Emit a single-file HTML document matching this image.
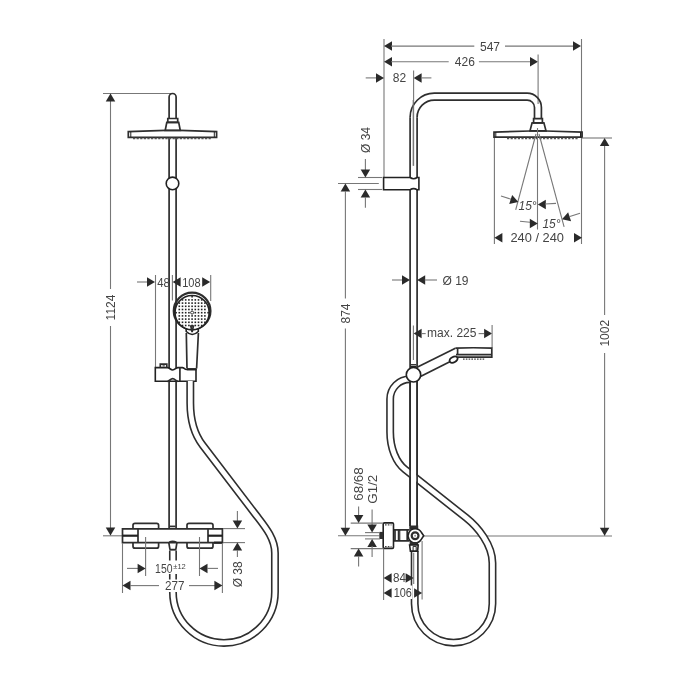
<!DOCTYPE html>
<html><head><meta charset="utf-8"><style>
html,body{margin:0;padding:0;background:#fff;width:700px;height:700px;overflow:hidden}
svg{display:block;will-change:transform}
text{font-family:"Liberation Sans",sans-serif;fill:#444}
.t{stroke:#777;stroke-width:1.1;fill:none}
.k{stroke:#2e2e2e;stroke-width:1.7;fill:none}
.k2{stroke:#222;stroke-width:1;fill:none}
.kb{stroke:#222;stroke-width:2.2;fill:none}
.kw{stroke:#222;stroke-width:1.6;fill:#fff}
.kthick{stroke:#222;stroke-width:3;fill:none}
.dash{stroke:#444;stroke-width:1.3;stroke-dasharray:1.6 1.2;fill:none}
.a{fill:#2a2a2a}
.dash2{stroke:#555;stroke-width:1.3;stroke-dasharray:2.2 1.4;fill:none}
.hoseo{stroke:#2e2e2e;stroke-width:8.0;fill:none}
.hosei{stroke:#fff;stroke-width:4.8;fill:none}
</style></head><body>
<svg width="700" height="700" viewBox="0 0 700 700">
<line x1="103" y1="93.5" x2="171" y2="93.5" class="t"/>
<line x1="110.5" y1="93.5" x2="110.5" y2="289" class="t"/>
<line x1="110.5" y1="326" x2="110.5" y2="535.5" class="t"/>
<polygon points="110.50,93.50 115.25,101.50 105.75,101.50" class="a"/>
<polygon points="110.50,535.50 105.75,527.50 115.25,527.50" class="a"/>
<line x1="103" y1="535.8" x2="122.5" y2="535.8" class="t"/>
<text x="110.5" y="307.5" font-size="12" text-anchor="middle" dominant-baseline="central" transform="rotate(-90 110.5 307.5)" >1124</text>
<path d="M169.1,118.5 L169.1,97 A3.5,3.5 0 0 1 176.1,97 L176.1,118.5" class="k"/>
<path d="M169.1,137.5 L169.1,528.8 M176.1,137.5 L176.1,528.8" class="k"/>
<path d="M167.8,118.5 L177.7,118.5 L177.7,122.3 L167.8,122.3 Z" class="k"/>
<path d="M166.8,122.3 L178.7,122.3 L180.3,130.5 L165.2,130.5 Z" class="k"/>
<path d="M128.3,131.6 L165.5,130.4 L180,130.4 L216.6,131.6 L216.6,137.4 L128.3,137.4 Z" class="k"/>
<path d="M214.3,131.7 L214.3,137.1" class="k2"/>
<line x1="133" y1="138.5" x2="211" y2="138.5" class="dash2"/>
<line x1="130.8" y1="131.8" x2="130.8" y2="137" class="k2"/>
<circle cx="172.5" cy="183.4" r="6.3" class="kw"/>
<line x1="137" y1="282" x2="147" y2="282" class="t"/>
<polygon points="155.00,282.00 147.00,286.75 147.00,277.25" class="a"/>
<line x1="155.5" y1="275" x2="155.5" y2="367.5" class="t"/>
<text x="163.5" y="282.5" font-size="12" text-anchor="middle" dominant-baseline="central" textLength="12.6" lengthAdjust="spacingAndGlyphs" >48</text>
<line x1="172.4" y1="275" x2="172.4" y2="300.5" class="t"/>
<polygon points="172.60,282.00 180.60,277.25 180.60,286.75" class="a"/>
<text x="191.4" y="282.5" font-size="12" text-anchor="middle" dominant-baseline="central" textLength="18.4" lengthAdjust="spacingAndGlyphs" >108</text>
<polygon points="210.20,282.00 202.20,286.75 202.20,277.25" class="a"/>
<line x1="210.7" y1="275" x2="210.7" y2="301" class="t"/>
<path d="M186.3,333 L187.0,368.5 M198.4,333 L196.6,368.5" class="k"/>
<path d="M186.2,328 L186.2,331.5 Q192.2,337.5 198.3,331.5 L198.3,328" class="kw"/>
<circle cx="192.1" cy="310.9" r="18.3" class="k" style="stroke-width:2.3"/>
<circle cx="192.1" cy="312.6" r="17.1" class="kw"/>
<g fill="#222"><rect x="175.30" y="311.90" width="1.6" height="1.6"/><rect x="178.50" y="302.30" width="1.6" height="1.6"/><rect x="178.50" y="305.50" width="1.6" height="1.6"/><rect x="178.50" y="308.70" width="1.6" height="1.6"/><rect x="178.50" y="311.90" width="1.6" height="1.6"/><rect x="178.50" y="315.10" width="1.6" height="1.6"/><rect x="178.50" y="318.30" width="1.6" height="1.6"/><rect x="178.50" y="321.50" width="1.6" height="1.6"/><rect x="181.70" y="299.10" width="1.6" height="1.6"/><rect x="181.70" y="302.30" width="1.6" height="1.6"/><rect x="181.70" y="305.50" width="1.6" height="1.6"/><rect x="181.70" y="308.70" width="1.6" height="1.6"/><rect x="181.70" y="311.90" width="1.6" height="1.6"/><rect x="181.70" y="315.10" width="1.6" height="1.6"/><rect x="181.70" y="318.30" width="1.6" height="1.6"/><rect x="181.70" y="321.50" width="1.6" height="1.6"/><rect x="181.70" y="324.70" width="1.6" height="1.6"/><rect x="184.90" y="299.10" width="1.6" height="1.6"/><rect x="184.90" y="302.30" width="1.6" height="1.6"/><rect x="184.90" y="305.50" width="1.6" height="1.6"/><rect x="184.90" y="308.70" width="1.6" height="1.6"/><rect x="184.90" y="311.90" width="1.6" height="1.6"/><rect x="184.90" y="315.10" width="1.6" height="1.6"/><rect x="184.90" y="318.30" width="1.6" height="1.6"/><rect x="184.90" y="321.50" width="1.6" height="1.6"/><rect x="184.90" y="324.70" width="1.6" height="1.6"/><rect x="188.10" y="299.10" width="1.6" height="1.6"/><rect x="188.10" y="302.30" width="1.6" height="1.6"/><rect x="188.10" y="305.50" width="1.6" height="1.6"/><rect x="188.10" y="308.70" width="1.6" height="1.6"/><rect x="188.10" y="311.90" width="1.6" height="1.6"/><rect x="188.10" y="315.10" width="1.6" height="1.6"/><rect x="188.10" y="318.30" width="1.6" height="1.6"/><rect x="188.10" y="321.50" width="1.6" height="1.6"/><rect x="188.10" y="324.70" width="1.6" height="1.6"/><rect x="191.30" y="295.90" width="1.6" height="1.6"/><rect x="191.30" y="299.10" width="1.6" height="1.6"/><rect x="191.30" y="302.30" width="1.6" height="1.6"/><rect x="191.30" y="305.50" width="1.6" height="1.6"/><rect x="191.30" y="308.70" width="1.6" height="1.6"/><rect x="191.30" y="315.10" width="1.6" height="1.6"/><rect x="191.30" y="318.30" width="1.6" height="1.6"/><rect x="191.30" y="321.50" width="1.6" height="1.6"/><rect x="191.30" y="324.70" width="1.6" height="1.6"/><rect x="191.30" y="327.90" width="1.6" height="1.6"/><rect x="194.50" y="299.10" width="1.6" height="1.6"/><rect x="194.50" y="302.30" width="1.6" height="1.6"/><rect x="194.50" y="305.50" width="1.6" height="1.6"/><rect x="194.50" y="308.70" width="1.6" height="1.6"/><rect x="194.50" y="311.90" width="1.6" height="1.6"/><rect x="194.50" y="315.10" width="1.6" height="1.6"/><rect x="194.50" y="318.30" width="1.6" height="1.6"/><rect x="194.50" y="321.50" width="1.6" height="1.6"/><rect x="194.50" y="324.70" width="1.6" height="1.6"/><rect x="197.70" y="299.10" width="1.6" height="1.6"/><rect x="197.70" y="302.30" width="1.6" height="1.6"/><rect x="197.70" y="305.50" width="1.6" height="1.6"/><rect x="197.70" y="308.70" width="1.6" height="1.6"/><rect x="197.70" y="311.90" width="1.6" height="1.6"/><rect x="197.70" y="315.10" width="1.6" height="1.6"/><rect x="197.70" y="318.30" width="1.6" height="1.6"/><rect x="197.70" y="321.50" width="1.6" height="1.6"/><rect x="197.70" y="324.70" width="1.6" height="1.6"/><rect x="200.90" y="299.10" width="1.6" height="1.6"/><rect x="200.90" y="302.30" width="1.6" height="1.6"/><rect x="200.90" y="305.50" width="1.6" height="1.6"/><rect x="200.90" y="308.70" width="1.6" height="1.6"/><rect x="200.90" y="311.90" width="1.6" height="1.6"/><rect x="200.90" y="315.10" width="1.6" height="1.6"/><rect x="200.90" y="318.30" width="1.6" height="1.6"/><rect x="200.90" y="321.50" width="1.6" height="1.6"/><rect x="200.90" y="324.70" width="1.6" height="1.6"/><rect x="204.10" y="302.30" width="1.6" height="1.6"/><rect x="204.10" y="305.50" width="1.6" height="1.6"/><rect x="204.10" y="308.70" width="1.6" height="1.6"/><rect x="204.10" y="311.90" width="1.6" height="1.6"/><rect x="204.10" y="315.10" width="1.6" height="1.6"/><rect x="204.10" y="318.30" width="1.6" height="1.6"/><rect x="204.10" y="321.50" width="1.6" height="1.6"/><rect x="207.30" y="311.90" width="1.6" height="1.6"/></g>
<circle cx="192.1" cy="312.6" r="1.5" class="kw" style="stroke-width:0.9"/>
<path d="M190.8,326 L192.1,332 L193.4,326 Z" class="k"/>
<path d="M155.3,367.6 L167.5,367.6 C169.5,367.6 170.5,370 172.7,370 C175,370 176,367.6 178,367.6 L182.5,367.6 C184,367.6 184.5,369.5 186.5,369.5 L196,369.5 L196,381.3 L155.3,381.3 Z" class="kw"/>
<path d="M167.5,381.3 C169.5,381.3 170.5,378.6 172.7,378.6 C175,378.6 176,381.3 178,381.3" class="k"/>
<path d="M160.3,367.6 L160.3,364.2 L166.8,364.2 L166.8,367.6" class="k"/>
<line x1="162.5" y1="365.9" x2="164.8" y2="365.9" class="k2"/>
<line x1="179.9" y1="367.6" x2="179.9" y2="381.3" class="k"/>
<line x1="187.0" y1="369.2" x2="196.6" y2="369.2" class="kb"/>
<path d="M190.3,381 L190.3,403 C190.3,418 193.4,433 202.55,445 L256,515 C264,525.5 274.95,538 274.95,553 L274.95,591.9 A51,51 0 0 1 172.95,591.9 L172.95,550.5" class="hoseo"/>
<path d="M190.3,381 L190.3,403 C190.3,418 193.4,433 202.55,445 L256,515 C264,525.5 274.95,538 274.95,553 L274.95,591.9 A51,51 0 0 1 172.95,591.9 L172.95,550.5" class="hosei"/>
<path d="M122.5,528.8 L222.4,528.8 L222.4,542.7 L122.5,542.7 Z" class="k"/>
<line x1="138" y1="528.8" x2="138" y2="542.7" class="k"/>
<line x1="208" y1="528.8" x2="208" y2="542.7" class="k"/>
<line x1="122.5" y1="535.7" x2="138" y2="535.7" class="kb"/>
<line x1="208" y1="535.7" x2="222.4" y2="535.7" class="kb"/>
<path d="M133,528.8 L133,525.3 Q133,523.3 135,523.3 L156.6,523.3 Q158.6,523.3 158.6,525.3 L158.6,528.8" class="k"/>
<path d="M187,528.8 L187,525.3 Q187,523.3 189,523.3 L211,523.3 Q213,523.3 213,525.3 L213,528.8" class="k"/>
<path d="M133,542.7 L133,546.2 Q133,548.2 135,548.2 L156.6,548.2 Q158.6,548.2 158.6,546.2 L158.6,542.7" class="k"/>
<path d="M187,542.7 L187,546.2 Q187,548.2 189,548.2 L211,548.2 Q213,548.2 213,546.2 L213,542.7" class="k"/>
<line x1="214" y1="542.7" x2="222" y2="542.7" class="kb"/>
<path d="M168.8,542.7 L170,549.6 M176.9,542.7 L175.8,549.6 M169.5,549.6 L176.3,549.6" class="k"/>
<path d="M169.2,542.2 Q172.6,540.4 176.4,542.2" class="k"/>
<line x1="169.6" y1="526.4" x2="175.6" y2="526.4" class="k"/>
<rect x="166" y="560.5" width="13" height="13.5" fill="#fff"/>
<rect x="166" y="579.5" width="13" height="12.5" fill="#fff"/>
<line x1="145.6" y1="537" x2="145.6" y2="576" class="t"/>
<line x1="199.5" y1="537" x2="199.5" y2="576" class="t"/>
<line x1="122.5" y1="543" x2="122.5" y2="593" class="t"/>
<line x1="222.4" y1="543" x2="222.4" y2="593" class="t"/>
<line x1="127" y1="568.4" x2="138" y2="568.4" class="t"/>
<polygon points="145.60,568.40 137.60,573.15 137.60,563.65" class="a"/>
<text x="163.8" y="569" font-size="12" text-anchor="middle" dominant-baseline="central" textLength="17.4" lengthAdjust="spacingAndGlyphs" >150</text>
<text x="179.5" y="566" font-size="7.5" text-anchor="middle" dominant-baseline="central" >±12</text>
<polygon points="199.50,568.40 207.50,563.65 207.50,573.15" class="a"/>
<line x1="207" y1="568.4" x2="218" y2="568.4" class="t"/>
<polygon points="122.50,585.60 130.50,580.85 130.50,590.35" class="a"/>
<line x1="130" y1="585.6" x2="159" y2="585.6" class="t"/>
<text x="174.7" y="586.2" font-size="12" text-anchor="middle" dominant-baseline="central" textLength="19.4" lengthAdjust="spacingAndGlyphs" >277</text>
<line x1="189" y1="585.6" x2="215" y2="585.6" class="t"/>
<polygon points="222.40,585.60 214.40,590.35 214.40,580.85" class="a"/>
<line x1="223" y1="528.6" x2="245" y2="528.6" class="t"/>
<line x1="223" y1="542.6" x2="245" y2="542.6" class="t"/>
<line x1="237.4" y1="511" x2="237.4" y2="521" class="t"/>
<polygon points="237.40,528.60 232.65,520.60 242.15,520.60" class="a"/>
<polygon points="237.40,542.60 242.15,550.60 232.65,550.60" class="a"/>
<line x1="237.4" y1="550" x2="237.4" y2="557" class="t"/>
<text x="238.4" y="574.3" font-size="12" text-anchor="middle" dominant-baseline="central" transform="rotate(-90 238.4 574.3)" >Ø 38</text>
<line x1="384" y1="39" x2="384" y2="177.5" class="t"/>
<polygon points="384.00,46.10 392.00,41.35 392.00,50.85" class="a"/>
<line x1="391" y1="46.1" x2="474.3" y2="46.1" class="t"/>
<text x="490" y="46.5" font-size="12" text-anchor="middle" dominant-baseline="central" >547</text>
<line x1="505" y1="46.1" x2="573" y2="46.1" class="t"/>
<polygon points="581.00,46.10 573.00,50.85 573.00,41.35" class="a"/>
<line x1="581.5" y1="39" x2="581.5" y2="244" class="t"/>
<polygon points="384.00,61.70 392.00,56.95 392.00,66.45" class="a"/>
<line x1="391" y1="61.7" x2="448.7" y2="61.7" class="t"/>
<text x="464.8" y="62" font-size="12" text-anchor="middle" dominant-baseline="central" >426</text>
<line x1="478.9" y1="61.7" x2="531" y2="61.7" class="t"/>
<polygon points="538.00,61.70 530.00,66.45 530.00,56.95" class="a"/>
<line x1="538.1" y1="54.4" x2="538.1" y2="104" class="t"/>
<line x1="365.7" y1="77.9" x2="377" y2="77.9" class="t"/>
<polygon points="384.00,77.90 376.00,82.65 376.00,73.15" class="a"/>
<text x="399.5" y="78.3" font-size="12" text-anchor="middle" dominant-baseline="central" >82</text>
<polygon points="413.60,77.90 421.60,73.15 421.60,82.65" class="a"/>
<line x1="421" y1="77.9" x2="431.4" y2="77.9" class="t"/>
<line x1="413.6" y1="70.4" x2="413.6" y2="165.7" class="t"/>
<path d="M410.1,117.3 A24.2,24.2 0 0 1 434.3,93.2 L527.1,93.2 A14.3,14.3 0 0 1 541.4,107.5 L541.4,118.6" class="k"/>
<path d="M417.1,117.3 A17.2,17.2 0 0 1 434.3,100.1 L527.1,100.1 A7.3,7.3 0 0 1 534.5,107.5 L534.5,118.6" class="k"/>
<path d="M410.1,117.3 L410.1,526 M417.1,117.3 L417.1,526" class="k"/>
<path d="M533.6,118.6 L542.4,118.6 L542.4,122.9 L533.6,122.9 Z" class="k"/>
<path d="M532.1,122.9 L543.9,122.9 L546,130.8 L530,130.8 Z" class="k"/>
<path d="M494,132.1 L530,131 L546,131 L582.1,132.1 L582.1,137.1 L494,137.1 Z" class="k"/>
<line x1="495.8" y1="132.3" x2="495.8" y2="137" class="k2"/>
<line x1="580.5" y1="132.3" x2="580.5" y2="137" class="k2"/>
<line x1="507" y1="138.5" x2="579" y2="138.5" class="dash2"/>
<line x1="536" y1="134" x2="515.7" y2="209.8" class="t"/>
<line x1="539" y1="134" x2="564.1" y2="226.9" class="t"/>
<line x1="537.5" y1="128" x2="537.5" y2="229.5" class="t"/>
<line x1="494.4" y1="138" x2="494.4" y2="244" class="t"/>
<polygon points="494.40,237.70 502.40,232.95 502.40,242.45" class="a"/>
<text x="537.2" y="238" font-size="12" text-anchor="middle" dominant-baseline="central" textLength="53.5" lengthAdjust="spacingAndGlyphs" >240 / 240</text>
<polygon points="582.00,237.70 574.00,242.45 574.00,232.95" class="a"/>
<line x1="501" y1="196" x2="512" y2="199.5" class="t"/>
<polygon points="518.30,202.00 509.22,204.05 512.16,195.01" class="a"/>
<text x="527.6" y="205.6" font-size="12" text-anchor="middle" dominant-baseline="central" font-style="italic">15°</text>
<polygon points="537.80,204.60 545.80,199.85 545.80,209.35" class="a"/>
<line x1="545" y1="204" x2="556" y2="203.4" class="t"/>
<line x1="520" y1="221.2" x2="530" y2="222.2" class="t"/>
<polygon points="537.80,223.50 529.80,228.25 529.80,218.75" class="a"/>
<text x="551.5" y="223.6" font-size="12" text-anchor="middle" dominant-baseline="central" font-style="italic">15°</text>
<polygon points="562.00,219.20 568.14,212.21 571.08,221.25" class="a"/>
<line x1="569" y1="216.8" x2="580" y2="213.2" class="t"/>
<line x1="582" y1="138" x2="612" y2="138" class="t"/>
<polygon points="604.60,138.00 609.35,146.00 599.85,146.00" class="a"/>
<line x1="604.6" y1="146" x2="604.6" y2="315" class="t"/>
<line x1="604.6" y1="353" x2="604.6" y2="535.7" class="t"/>
<polygon points="604.60,535.70 599.85,527.70 609.35,527.70" class="a"/>
<text x="605" y="333.2" font-size="12" text-anchor="middle" dominant-baseline="central" transform="rotate(-90 605 333.2)" >1002</text>
<line x1="423" y1="536" x2="612" y2="536" class="t"/>
<path d="M383.6,177.5 L410.1,177.5 Q413.6,180 417.1,177.5 L418.9,177.5 L418.9,189.7 L417.1,189.7 Q413.6,187.5 410.1,189.7 L383.6,189.7 Z" class="kw"/>
<line x1="413.2" y1="100" x2="413.2" y2="165.7" class="t"/>
<line x1="358" y1="177.5" x2="382.3" y2="177.5" class="t"/>
<line x1="358" y1="189.5" x2="382.3" y2="189.5" class="t"/>
<line x1="365.4" y1="159" x2="365.4" y2="170" class="t"/>
<polygon points="365.40,177.50 360.65,169.50 370.15,169.50" class="a"/>
<polygon points="365.40,189.50 370.15,197.50 360.65,197.50" class="a"/>
<line x1="365.4" y1="197" x2="365.4" y2="207.7" class="t"/>
<text x="365.5" y="140" font-size="12" text-anchor="middle" dominant-baseline="central" transform="rotate(-90 365.5 140)" >Ø 34</text>
<line x1="338" y1="183.5" x2="378.8" y2="183.5" class="t"/>
<polygon points="345.40,183.60 350.15,191.60 340.65,191.60" class="a"/>
<line x1="345.4" y1="191" x2="345.4" y2="298.5" class="t"/>
<line x1="345.4" y1="328.5" x2="345.4" y2="535.7" class="t"/>
<polygon points="345.40,535.70 340.65,527.70 350.15,527.70" class="a"/>
<text x="345.5" y="313.5" font-size="12" text-anchor="middle" dominant-baseline="central" transform="rotate(-90 345.5 313.5)" >874</text>
<line x1="338" y1="535.7" x2="379.3" y2="535.7" class="t"/>
<line x1="392" y1="280" x2="402" y2="280" class="t"/>
<polygon points="410.00,280.00 402.00,284.75 402.00,275.25" class="a"/>
<polygon points="417.20,280.00 425.20,275.25 425.20,284.75" class="a"/>
<line x1="424.7" y1="280" x2="437" y2="280" class="t"/>
<text x="455.5" y="280.5" font-size="12" text-anchor="middle" dominant-baseline="central" >Ø 19</text>
<line x1="413.4" y1="325.4" x2="413.4" y2="360" class="t"/>
<line x1="410.8" y1="364.6" x2="416.3" y2="364.6" class="k2"/>
<line x1="410.5" y1="366.7" x2="416.5" y2="366.7" class="kb"/>
<polygon points="413.60,333.60 421.60,328.85 421.60,338.35" class="a"/>
<line x1="421" y1="333.6" x2="425.7" y2="333.6" class="t"/>
<text x="451.8" y="333.3" font-size="12" text-anchor="middle" dominant-baseline="central" >max. 225</text>
<line x1="478.6" y1="333.6" x2="484" y2="333.6" class="t"/>
<polygon points="492.10,333.60 484.10,338.35 484.10,328.85" class="a"/>
<line x1="492.1" y1="325" x2="492.1" y2="348" class="t"/>
<path d="M455.4,348.2 Q473,347.3 491.8,348.2 L491.8,357.1 L457.2,357.1" class="k"/>
<line x1="457.6" y1="348.2" x2="457.6" y2="354.6" class="k"/>
<line x1="456" y1="354.6" x2="491.8" y2="354.6" class="k"/>
<line x1="463" y1="359.2" x2="485" y2="359.2" class="dash"/>
<path d="M455.4,348.2 L417.6,366.9" class="k"/>
<path d="M450.3,361.4 L420.5,376.5" class="k"/>
<ellipse cx="453.6" cy="359.6" rx="4.3" ry="2.7" transform="rotate(-28 453.6 359.6)" class="kw" style="stroke-width:1.9"/>
<path d="M410,379.2 A19.85,19.85 0 0 0 390.15,399 L390.15,432 C390.15,448 396,462.3 405,469.4 L466,517.7 C478,527.2 492.45,545 492.45,563 L492.45,603.8 A38.875,38.875 0 0 1 414.7,603.8 L414.7,551" class="hoseo"/>
<path d="M410,379.2 A19.85,19.85 0 0 0 390.15,399 L390.15,432 C390.15,448 396,462.3 405,469.4 L466,517.7 C478,527.2 492.45,545 492.45,563 L492.45,603.8 A38.875,38.875 0 0 1 414.7,603.8 L414.7,551" class="hosei"/>
<rect x="411" y="380" width="5.2" height="145" fill="#fff"/>
<path d="M410.1,378 L410.1,526 M417.1,378 L417.1,526" class="k"/>
<circle cx="413.5" cy="374.75" r="7.2" class="kw"/>
<rect x="409.3" y="525.5" width="8.9" height="4.3" fill="#2e2e2e"/>
<path d="M393.5,529.9 L409.6,529.9 M393.5,540.9 L409.6,540.9" class="k"/>
<line x1="395" y1="530" x2="395" y2="540.8" class="k"/>
<line x1="398.6" y1="530" x2="398.6" y2="540.8" class="k"/>
<line x1="399.8" y1="530" x2="399.8" y2="540.8" class="k2"/>
<line x1="407.2" y1="530" x2="407.2" y2="540.8" class="k"/>
<path d="M383.2,524 Q383.2,522.9 384.4,522.9 L392.3,522.9 Q393.5,522.9 393.5,524 L393.5,547.3 Q393.5,548.4 392.3,548.4 L384.4,548.4 Q383.2,548.4 383.2,547.3 Z" class="kw"/>
<line x1="385" y1="524.9" x2="391.5" y2="524.9" class="dash"/>
<line x1="385" y1="546.6" x2="391.5" y2="546.6" class="dash"/>
<rect x="379.3" y="531.9" width="3.9" height="7.1" fill="#2e2e2e"/>
<path d="M415.1,528.7 A7.1,7.1 0 0 1 421.3,532.2 L423.7,535.8 L421.3,539.4 A7.1,7.1 0 1 1 415.1,528.7 Z" class="kw"/>
<circle cx="415.1" cy="535.8" r="3.4" fill="none" stroke="#2e2e2e" stroke-width="2.2"/>
<circle cx="415.1" cy="535.8" r="1" fill="#999"/>
<rect x="409.6" y="542.1" width="8.5" height="2.9" fill="#2e2e2e"/>
<path d="M409.6,545 L418.2,545 L417.6,551.1 L410.4,551.1 Z" class="kw"/>
<path d="M413.1,551 L413.1,546.4 L416.2,546.4 L416.2,551" class="k2"/>
<line x1="350.7" y1="523.1" x2="382.9" y2="523.1" class="t"/>
<line x1="350.7" y1="548.6" x2="383.6" y2="548.6" class="t"/>
<line x1="365" y1="532.6" x2="380" y2="532.6" class="t"/>
<line x1="365" y1="538.9" x2="380" y2="538.9" class="t"/>
<line x1="358.6" y1="506.4" x2="358.6" y2="515" class="t"/>
<polygon points="358.60,523.10 353.85,515.10 363.35,515.10" class="a"/>
<polygon points="358.60,548.60 363.35,556.60 353.85,556.60" class="a"/>
<line x1="358.6" y1="556" x2="358.6" y2="566.4" class="t"/>
<line x1="372.1" y1="509.5" x2="372.1" y2="525" class="t"/>
<polygon points="372.10,532.60 367.35,524.60 376.85,524.60" class="a"/>
<polygon points="372.10,538.90 376.85,546.90 367.35,546.90" class="a"/>
<line x1="372.1" y1="546" x2="372.1" y2="557.1" class="t"/>
<text x="359.2" y="484" font-size="12" text-anchor="middle" dominant-baseline="central" transform="rotate(-90 359.2 484)" textLength="33.5" lengthAdjust="spacingAndGlyphs" >68/68</text>
<text x="372.8" y="489.2" font-size="12" text-anchor="middle" dominant-baseline="central" transform="rotate(-90 372.8 489.2)" textLength="29" lengthAdjust="spacingAndGlyphs" >G1/2</text>
<line x1="383.6" y1="549" x2="383.6" y2="600" class="t"/>
<line x1="422.1" y1="541" x2="422.1" y2="599.4" class="t"/>
<rect x="409" y="585.5" width="3.2" height="13.5" fill="#fff"/>
<line x1="413.7" y1="552.7" x2="413.7" y2="584" class="t"/>
<polygon points="383.60,577.90 391.60,573.15 391.60,582.65" class="a"/>
<text x="399.6" y="578.3" font-size="12" text-anchor="middle" dominant-baseline="central" textLength="13" lengthAdjust="spacingAndGlyphs" >84</text>
<polygon points="413.60,577.90 405.60,582.65 405.60,573.15" class="a"/>
<polygon points="383.60,592.90 391.60,588.15 391.60,597.65" class="a"/>
<text x="402.8" y="593.3" font-size="12" text-anchor="middle" dominant-baseline="central" textLength="18.2" lengthAdjust="spacingAndGlyphs" >106</text>
<polygon points="422.10,592.90 414.10,597.65 414.10,588.15" class="a"/>
</svg>
</body></html>
